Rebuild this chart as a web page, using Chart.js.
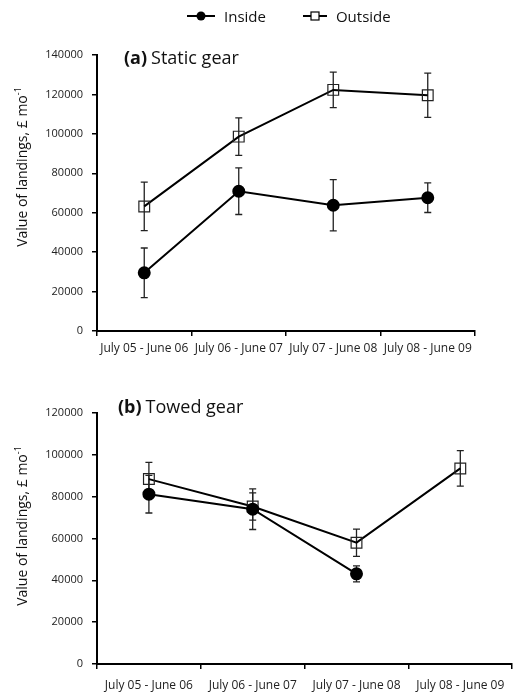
<!DOCTYPE html>
<html>
<head>
<meta charset="utf-8">
<script src="https://cdn.jsdelivr.net/npm/chart.js@4/dist/chart.umd.min.js"></script>
<style>
  body { margin: 0; background: #fff; font-family: "Open Sans", sans-serif; }
  #wrap { position: relative; width: 521px; height: 694px; overflow: hidden; }
  canvas { position: absolute; left: 0; }
  #chartA { top: 0; }
  #chartB { top: 370px; }
  .legend { position: absolute; top: 6px; left: 186px; font-size: 15px; color: #111; display: flex; align-items: center; }
  .legend svg { margin-right: 8px; }
  .panel { position: absolute; font-size: 18px; color: #111; white-space: nowrap; }
  .panel b { font-weight: 700; margin-right: 4px; }
  .ytitle { position: absolute; width: 220px; height: 20px; line-height: 20px; text-align: center;
            font-size: 14px; color: #111; transform: rotate(-90deg); white-space: nowrap; }
</style>
</head>
<body>
<div id="wrap">
  <canvas id="chartA" width="521" height="370"></canvas>
  <canvas id="chartB" width="521" height="324"></canvas>
  <div class="legend">
    <svg width="30" height="12"><line x1="1" y1="6" x2="29" y2="6" stroke="#000" stroke-width="2"/><circle cx="15" cy="6" r="4.5" fill="#000"/></svg>
    <span style="margin-right:36px">Inside</span>
    <svg width="26" height="12"><line x1="1" y1="6" x2="25" y2="6" stroke="#000" stroke-width="2"/><rect x="9" y="2" width="8" height="8" fill="#fff" stroke="#000" stroke-width="1.2"/></svg>
    <span>Outside</span>
  </div>
  <div class="panel" style="left:124px; top:45px"><b>(a)</b>Static gear</div>
  <div class="panel" style="left:118px; top:394px"><b>(b)</b>Towed gear</div>
  <div class="ytitle" style="left:-92px; top:157px">Value of landings, £ mo<sup style="font-size:9px">-1</sup></div>
  <div class="ytitle" style="left:-92px; top:516px">Value of landings, £ mo<sup style="font-size:9px">-1</sup></div>
</div>
<script>
// categories (fishing years)
const periods = ['July 05 - June 06', 'July 06 - June 07', 'July 07 - June 08', 'July 08 - June 09'];

// (a) static gear: means and error (+/-)
const staticInside = [29500, 70900, 63800, 67600];
const staticInsideErr = [12600, 11800, 13000, 7500];
const staticOutside = [63200, 98600, 122300, 119600];
const staticOutsideErr = [12300, 9500, 9000, 11200];

// (b) towed gear
const towedInside = [81200, 74000, 43100, null];
const towedInsideErr = [9000, 9700, 3800, null];
const towedOutside = [88400, 75300, 58000, 93500];
const towedOutsideErr = [8000, 6500, 6500, 8500];

const axisFont = { family: 'Open Sans', size: 11 };

// draws the +/- bars under the lines and markers
const errorBars = {
  id: 'errorBars',
  beforeDatasetsDraw(chart) {
    const { ctx, scales: { x, y } } = chart;
    ctx.save();
    ctx.strokeStyle = '#222';
    ctx.lineWidth = 1.3;
    chart.data.datasets.forEach(ds => {
      ds.errors.forEach((e, i) => {
        const v = ds.data[i];
        if (v == null || e == null) return;
        const px = x.getPixelForValue(i);
        const top = y.getPixelForValue(v + e);
        const bot = y.getPixelForValue(v - e);
        ctx.beginPath();
        ctx.moveTo(px, top); ctx.lineTo(px, bot);
        ctx.moveTo(px - 3.5, top); ctx.lineTo(px + 3.5, top);
        ctx.moveTo(px - 3.5, bot); ctx.lineTo(px + 3.5, bot);
        ctx.stroke();
      });
    });
    ctx.restore();
  }
};

function makeChart(id, inside, insideErr, outside, outsideErr, yMax, pad, xHeight, xPad) {
  return new Chart(document.getElementById(id), {
    type: 'line',
    data: {
      labels: periods,
      datasets: [
        {
          label: 'Inside',
          data: inside,
          errors: insideErr,
          borderColor: '#000',
          borderWidth: 2,
          pointStyle: 'circle',
          pointRadius: 5.5,
          pointBackgroundColor: '#000',
          pointBorderColor: '#000',
          tension: 0
        },
        {
          label: 'Outside',
          data: outside,
          errors: outsideErr,
          borderColor: '#000',
          borderWidth: 2,
          pointStyle: 'rect',
          pointRadius: 7.6,
          pointBorderWidth: 1.2,
          pointBackgroundColor: 'rgba(255,255,255,0)',
          pointBorderColor: '#222',
          tension: 0
        }
      ]
    },
    options: {
      responsive: false,
      animation: false,
      layout: { padding: pad },
      plugins: { legend: { display: false }, tooltip: { enabled: false } },
      scales: {
        x: {
          offset: true,
          grid: { offset: true, drawOnChartArea: false, color: '#000', lineWidth: 1.5, tickLength: 5 },
          border: { color: '#000', width: 2 },
          ticks: { color: '#222', font: { family: 'Open Sans', size: 12 }, padding: xPad, maxRotation: 0 },
          afterFit: s => { s.height = xHeight; }
        },
        y: {
          min: 0,
          max: yMax,
          ticks: { stepSize: 20000, color: '#222', font: axisFont, padding: 9, callback: v => String(v) },
          grid: { drawOnChartArea: false, color: '#000', lineWidth: 1.5, tickLength: 5 },
          border: { color: '#000', width: 2 },
          afterFit: s => { s.width = 97; }
        }
      }
    },
    plugins: [errorBars]
  });
}

makeChart('chartA', staticInside, staticInsideErr, staticOutside, staticOutsideErr, 140000,
  { top: 55, right: 46, bottom: 0, left: 0 }, 39, 5);
makeChart('chartB', towedInside, towedInsideErr, towedOutside, towedOutsideErr, 120000,
  { top: 43, right: 4, bottom: 0, left: 0 }, 30, 9);
</script>
</body>
</html>
